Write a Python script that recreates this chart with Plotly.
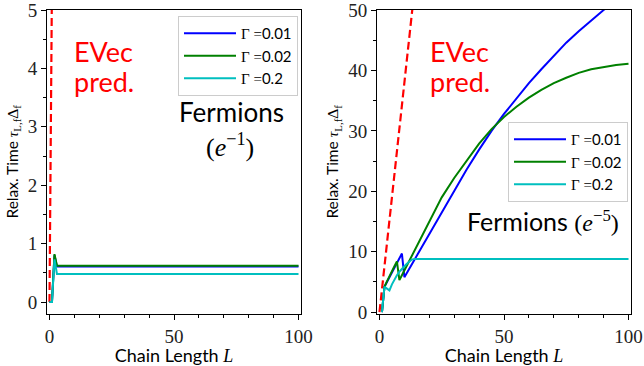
import plotly.graph_objects as go

# ---------------- data ----------------
gamma_labels = ["0.01", "0.02", "0.2"]

# Left panel (e^-1)
L_left = [0, 1, 2, 3, 4, 100]
left_g001 = [0, 0, 0.80, 0.61, 0.61, 0.61]
left_g002 = [0, 0, 0.82, 0.62, 0.62, 0.62]
left_g02 = [0, 0, 0.73, 0.48, 0.48, 0.48]
evec_left_L = [0, 1, 2]
evec_left_y = [0, 5.5, 11.0]

# Right panel (e^-5)
L_r001 = [1, 2, 3, 4, 5, 6, 7, 8, 9, 10, 15, 20, 25, 30, 35, 40, 45, 50, 55,
          60, 65, 70, 75, 80, 85, 90, 95, 100]
r_g001 = [0, 4.2, 5.0, 5.8, 6.6, 7.4, 8.2, 9.0, 9.7, 5.8, 9.4, 13.0, 16.6,
          20.2, 23.6, 26.9, 30.0, 32.8, 35.3, 37.9, 40.2, 42.4, 44.6, 46.5,
          48.3, 50.0, 51.5, 53.0]
L_r002 = [1, 2, 3, 4, 5, 6, 7, 8, 9, 10, 15, 20, 25, 30, 35, 40, 45, 50, 55,
          60, 65, 70, 75, 80, 85, 90, 95, 100]
r_g002 = [0, 4.2, 5.1, 6.0, 6.8, 7.6, 8.4, 5.3, 6.1, 6.9, 11.0, 15.0, 19.0,
          22.2, 25.1, 27.9, 30.3, 32.3, 34.0, 35.5, 36.8, 37.9, 38.8, 39.6,
          40.2, 40.6, 40.9, 41.1]
L_r02 = [1, 2, 3, 4, 5, 6, 7, 8, 9, 10, 11, 12, 13, 14, 15, 100]
r_g02 = [0, 4.2, 3.9, 3.6, 4.6, 5.4, 6.1, 6.7, 7.2, 7.6, 8.0, 8.4, 8.7, 8.8,
         8.8, 8.8]
evec_right_L = [0, 5, 10, 15]
evec_right_y = [0, 19.0, 38.0, 57.0]

x_ticks = [0, 50, 100]
y_ticks_left = [0, 1, 2, 3, 4, 5]
y_ticks_right = [0, 10, 20, 30, 40, 50]

# ---------------- style ----------------
W, H = 644, 366
SANS = "Lato"
SERIF = "Liberation Serif"
colors = ["#0000ff", "#008000", "#00bfbf"]
RED = "#ff0000"


def px_x(p):
    return p / W


def px_y(p):
    return 1 - p / H


def gname(g):
    return f"<span style=\"font-family:'{SERIF}'\">Γ =</span>{g}"


fig = go.Figure()

# left panel
fig.add_trace(go.Scatter(x=evec_left_L, y=evec_left_y, mode="lines",
                         line=dict(color=RED, width=2.2, dash="8px,4px"),
                         showlegend=False, xaxis="x", yaxis="y"))
for ys, c, g in zip([left_g001, left_g002, left_g02], colors, gamma_labels):
    fig.add_trace(go.Scatter(x=L_left, y=ys, mode="lines",
                             line=dict(color=c, width=2), name=gname(g),
                             legend="legend", legendgroup="l" + g,
                             xaxis="x", yaxis="y"))

# right panel
fig.add_trace(go.Scatter(x=evec_right_L, y=evec_right_y, mode="lines",
                         line=dict(color=RED, width=2.2, dash="8px,4px"),
                         showlegend=False, xaxis="x2", yaxis="y2"))
for xs, ys, c, g in zip([L_r001, L_r002, L_r02], [r_g001, r_g002, r_g02],
                        colors, gamma_labels):
    fig.add_trace(go.Scatter(x=xs, y=ys, mode="lines",
                             line=dict(color=c, width=2), name=gname(g),
                             legend="legend2", legendgroup="r" + g,
                             xaxis="x2", yaxis="y2"))

xl, xr = 47, 301
xl2, xr2 = 377, 631
yt, yb = 10, 313.7

tickfont = dict(family=SERIF, size=19, color="#222")
axis_common = dict(showgrid=False, zeroline=False, showline=True,
                   linecolor="black", linewidth=1, mirror=True,
                   ticks="outside", ticklen=5, tickwidth=1, tickcolor="black",
                   tickfont=tickfont, automargin=False,
                   ticklabeloverflow="allow")

xtitle = dict(text=f"Chain Length <span style=\"font-family:'{SERIF}'\"><i>L</i></span>",
              font=dict(family=SANS, size=18, color="black"), standoff=4)
ytitle = dict(text=(f"Relax. Time <span style=\"font-family:'{SERIF}'\">"
                    "<i>τ</i><sub>L,f</sub>Δ<sub>f</sub></span>"),
              font=dict(family=SANS, size=15.5, color="black"), standoff=5)

fig.update_layout(
    width=W, height=H,
    margin=dict(l=0, r=0, t=0, b=0),
    paper_bgcolor="white", plot_bgcolor="white",
    xaxis=dict(domain=[px_x(xl), px_x(xr)], range=[-1, 101], anchor="y",
               tickvals=x_ticks,
               minor=dict(dtick=10, tick0=0, ticks="outside", ticklen=3,
                          tickcolor="black"),
               title=xtitle, **axis_common),
    yaxis=dict(domain=[px_y(yb), px_y(yt)], range=[-0.2, 5.0005], anchor="x",
               tickvals=y_ticks_left,
               minor=dict(dtick=0.5, tick0=0, ticks="outside", ticklen=3,
                          tickcolor="black"),
               title=ytitle, **axis_common),
    xaxis2=dict(domain=[px_x(xl2), px_x(xr2)], range=[-1, 101], anchor="y2",
                tickvals=x_ticks,
                minor=dict(dtick=10, tick0=0, ticks="outside", ticklen=3,
                           tickcolor="black"),
                title=xtitle, **axis_common),
    yaxis2=dict(domain=[px_y(yb), px_y(yt)], range=[-0.25, 50.005], anchor="x2",
                tickvals=y_ticks_right,
                minor=dict(dtick=5, tick0=0, ticks="outside", ticklen=3,
                           tickcolor="black"),
                title=ytitle, **axis_common),
    legend=dict(x=px_x(178), y=px_y(16), xanchor="left", yanchor="top",
                bgcolor="rgba(255,255,255,0.8)", bordercolor="#cccccc",
                borderwidth=1, font=dict(family=SANS, size=15, color="black"),
                tracegroupgap=0, itemwidth=52),
    legend2=dict(x=px_x(508), y=px_y(122), xanchor="left", yanchor="top",
                 bgcolor="rgba(255,255,255,0.8)", bordercolor="#cccccc",
                 borderwidth=1, font=dict(family=SANS, size=15, color="black"),
                 tracegroupgap=0, itemwidth=52),
    showlegend=True,
)

ann_font = dict(family=SANS, size=27, color=RED)
black_font = dict(family=SANS, size=26, color="black")
annotations = [
    dict(text="EVec", x=px_x(72), y=px_y(52), xanchor="left", yanchor="middle", font=ann_font),
    dict(text="pred.", x=px_x(72), y=px_y(81), xanchor="left", yanchor="middle", font=ann_font),
    dict(text="EVec", x=px_x(428), y=px_y(52), xanchor="left", yanchor="middle", font=ann_font),
    dict(text="pred.", x=px_x(428), y=px_y(81), xanchor="left", yanchor="middle", font=ann_font),
    dict(text="Fermions", x=px_x(231), y=px_y(112), xanchor="center", yanchor="middle", font=black_font),
    dict(text=f"<span style=\"font-family:'{SERIF}'\">(<i>e</i><sup>−1</sup>)</span>",
         x=px_x(230), y=px_y(145), xanchor="center", yanchor="middle", font=black_font),
    dict(text=f"Fermions <span style=\"font-family:'{SERIF}';font-size:24px\">(<i>e</i><sup>−5</sup>)</span>",
         x=px_x(543), y=px_y(221), xanchor="center", yanchor="middle",
         font=dict(family=SANS, size=25, color="black")),
]
for a in annotations:
    a.update(xref="paper", yref="paper", showarrow=False)
fig.update_layout(annotations=annotations)

fig.write_html("out.html")
